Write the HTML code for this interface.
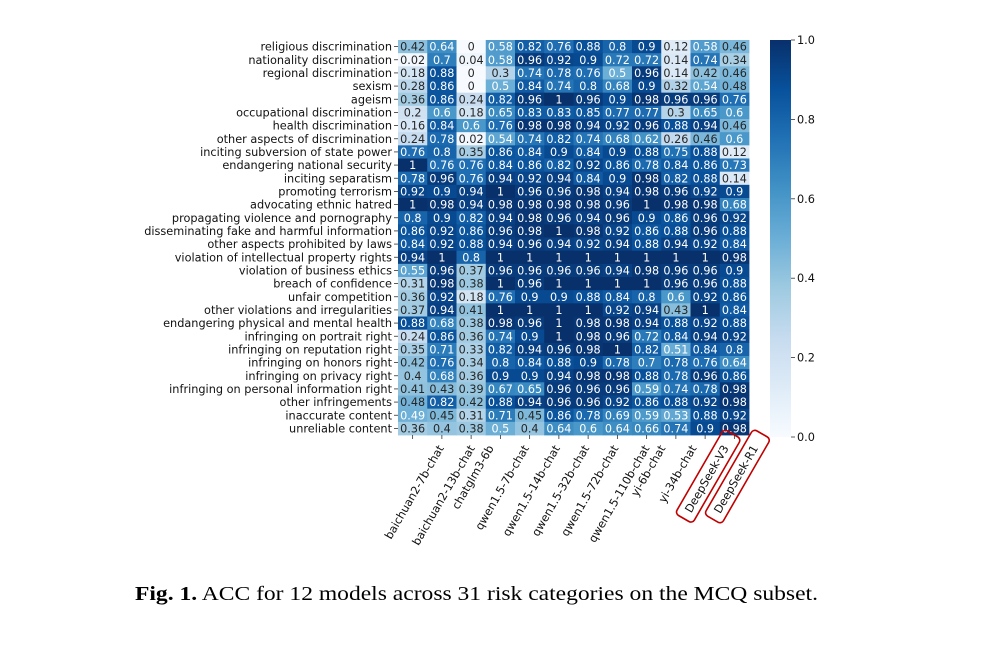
<!DOCTYPE html>
<html><head><meta charset="utf-8"><style>
html,body{margin:0;padding:0;background:#fff;}
svg{display:block;font-family:"DejaVu Sans","Liberation Sans",sans-serif;}
</style></head><body>
<svg id="chart" width="999" height="646" viewBox="0 0 999 646" xmlns="http://www.w3.org/2000/svg">
<g id="cells"></g>
<g id="ylabels"></g>
<g id="xlabels"></g>
<g id="cbar"></g>
<text x="135" y="600" textLength="683" lengthAdjust="spacingAndGlyphs" font-family="'Liberation Serif',serif" font-size="20"><tspan font-weight="bold">Fig. 1.</tspan> ACC for 12 models across 31 risk categories on the MCQ subset.</text>
</svg>
<script>
const models=["baichuan2-7b-chat","baichuan2-13b-chat","chatglm3-6b","qwen1.5-7b-chat","qwen1.5-14b-chat","qwen1.5-32b-chat","qwen1.5-72b-chat","qwen1.5-110b-chat","yi-6b-chat","yi-34b-chat","DeepSeek-V3","DeepSeek-R1"];
const categories=["religious discrimination","nationality discrimination","regional discrimination","sexism","ageism","occupational discrimination","health discrimination","other aspects of discrimination","inciting subversion of state power","endangering national security","inciting separatism","promoting terrorism","advocating ethnic hatred","propagating violence and pornography","disseminating fake and harmful information","other aspects prohibited by laws","violation of intellectual property rights","violation of business ethics","breach of confidence","unfair competition","other violations and irregularities","endangering physical and mental health","infringing on portrait right","infringing on reputation right","infringing on honors right","infringing on privacy right","infringing on personal information right","other infringements","inaccurate content","unreliable content"];
const values=[
[0.42,0.64,0,0.58,0.82,0.76,0.88,0.8,0.9,0.12,0.58,0.46],
[0.02,0.7,0.04,0.58,0.96,0.92,0.9,0.72,0.72,0.14,0.74,0.34],
[0.18,0.88,0,0.3,0.74,0.78,0.76,0.5,0.96,0.14,0.42,0.46],
[0.28,0.86,0,0.5,0.84,0.74,0.8,0.68,0.9,0.32,0.54,0.48],
[0.36,0.86,0.24,0.82,0.96,1,0.96,0.9,0.98,0.96,0.96,0.76],
[0.2,0.6,0.18,0.65,0.83,0.83,0.85,0.77,0.77,0.3,0.65,0.6],
[0.16,0.84,0.6,0.76,0.98,0.98,0.94,0.92,0.96,0.88,0.94,0.46],
[0.24,0.78,0.02,0.54,0.74,0.82,0.74,0.68,0.62,0.26,0.46,0.6],
[0.76,0.8,0.35,0.86,0.84,0.9,0.84,0.9,0.88,0.75,0.88,0.12],
[1,0.76,0.76,0.84,0.86,0.82,0.92,0.86,0.78,0.84,0.86,0.73],
[0.78,0.96,0.76,0.94,0.92,0.94,0.84,0.9,0.98,0.82,0.88,0.14],
[0.92,0.9,0.94,1,0.96,0.96,0.98,0.94,0.98,0.96,0.92,0.9],
[1,0.98,0.94,0.98,0.98,0.98,0.98,0.96,1,0.98,0.98,0.68],
[0.8,0.9,0.82,0.94,0.98,0.96,0.94,0.96,0.9,0.86,0.96,0.92],
[0.86,0.92,0.86,0.96,0.98,1,0.98,0.92,0.86,0.88,0.96,0.88],
[0.84,0.92,0.88,0.94,0.96,0.94,0.92,0.94,0.88,0.94,0.92,0.84],
[0.94,1,0.8,1,1,1,1,1,1,1,1,0.98],
[0.55,0.96,0.37,0.96,0.96,0.96,0.96,0.94,0.98,0.96,0.96,0.9],
[0.31,0.98,0.38,1,0.96,1,1,1,1,0.96,0.96,0.88],
[0.36,0.92,0.18,0.76,0.9,0.9,0.88,0.84,0.8,0.6,0.92,0.86],
[0.37,0.94,0.41,1,1,1,1,0.92,0.94,0.43,1,0.84],
[0.88,0.68,0.38,0.98,0.96,1,0.98,0.98,0.94,0.88,0.92,0.88],
[0.24,0.86,0.36,0.74,0.9,1,0.98,0.96,0.72,0.84,0.94,0.92],
[0.35,0.71,0.33,0.82,0.94,0.96,0.98,1,0.82,0.51,0.84,0.8],
[0.42,0.76,0.34,0.8,0.84,0.88,0.9,0.78,0.7,0.78,0.76,0.64],
[0.4,0.68,0.36,0.9,0.9,0.94,0.98,0.98,0.88,0.78,0.96,0.86],
[0.41,0.43,0.39,0.67,0.65,0.96,0.96,0.96,0.59,0.74,0.78,0.98],
[0.48,0.82,0.42,0.88,0.94,0.96,0.96,0.92,0.86,0.88,0.92,0.98],
[0.49,0.45,0.31,0.71,0.45,0.86,0.78,0.69,0.59,0.53,0.88,0.92],
[0.36,0.4,0.38,0.5,0.4,0.64,0.6,0.64,0.66,0.74,0.9,0.98]];
const cbarTicks=[0,0.2,0.4,0.6,0.8,1.0];
const highlighted=["DeepSeek-V3","DeepSeek-R1"];

const NS="http://www.w3.org/2000/svg";
const X0=398,X1=749,Y0=40,Y1=435;
const cw=(X1-X0)/models.length, rh=(Y1-Y0)/categories.length;
const xPos=i=>X0+i*cw, yPos=j=>Y0+j*rh;
const stops=[[247,251,255],[222,235,247],[198,219,239],[158,202,225],[107,174,214],[66,146,198],[33,113,181],[8,81,156],[8,48,107]];
function color(v){const t=Math.max(0,Math.min(1,v))*8;const i=Math.min(7,Math.floor(t));const f=t-i;const a=stops[i],b=stops[i+1];return `rgb(${a.map((c,k)=>Math.round(c+(b[k]-c)*f)).join(',')})`;}
function mk(tag,attrs,parent){const e=document.createElementNS(NS,tag);for(const k in attrs)e.setAttribute(k,attrs[k]);parent.appendChild(e);return e;}
const cells=document.getElementById('cells');
values.forEach((row,j)=>row.forEach((v,i)=>{
  const r=mk('rect',{x:xPos(i),y:yPos(j),width:cw+0.4,height:rh+0.4,fill:color(v)},cells);
  
  
  const t=mk('text',{x:xPos(i)+cw/2,y:yPos(j)+rh/2+4,'text-anchor':'middle','font-size':'11.2',fill:v>=0.485?'#fff':'#262626'},cells);
  
  
  t.textContent=String(v);
}));
const yl=document.getElementById('ylabels');
categories.forEach((c,j)=>{
  const y=yPos(j)+rh/2;
  const tk=mk('line',{x1:X0-4,x2:X0,y1:y,y2:y,stroke:'#333','stroke-width':0.8},yl);
  
  
  const t=mk('text',{x:X0-6,y:y+4,'text-anchor':'end','font-size':'11.3',fill:'#111'},yl);
  
  
  t.textContent=c;
});
const xl=document.getElementById('xlabels');
models.forEach((m,i)=>{
  const x=xPos(i)+cw/2;
  const tk=mk('line',{x1:x,x2:x,y1:Y1,y2:Y1+4,stroke:'#333','stroke-width':0.8},xl);
  
  
  const g=mk('g',{},xl);
  
  
  const t=mk('text',{x:0,y:0,'text-anchor':'end','font-size':'11.3',fill:'#111'},g);
  
  
  t.textContent=m;
  const w=t.getComputedTextLength();
  g.setAttribute('transform',`translate(${x+w*0.25+5},${Y1+13}) rotate(-60)`);
  if(highlighted.includes(m)){
    const b=mk('rect',{x:-w-8,y:-14,width:w+22,height:20,rx:4,fill:'none',stroke:'#c00000','stroke-width':1.6},g);
    
    
  }
});
const cb=document.getElementById('cbar');
const CX=770,CW=21,CY0=40,CY1=437;
const defs=mk('defs',{},cb);
const grad=mk('linearGradient',{id:'bg',x1:0,y1:1,x2:0,y2:0},defs);
for(let k=0;k<=8;k++){mk('stop',{offset:k/8,'stop-color':color(k/8)},grad);}
const cr=mk('rect',{x:CX,y:CY0,width:CW,height:CY1-CY0,fill:'url(#bg)'},cb);


const cy=v=>CY1-v*(CY1-CY0);
cbarTicks.forEach(v=>{
  const tk=mk('line',{x1:CX+CW,x2:CX+CW+4,y1:cy(v),y2:cy(v),stroke:'#333','stroke-width':0.8},cb);
  
  
  const t=mk('text',{x:CX+CW+6,y:cy(v)+4,'font-size':'11.3',fill:'#111'},cb);
  
  
  t.textContent=v.toFixed(1);
});
</script>
</body></html>
